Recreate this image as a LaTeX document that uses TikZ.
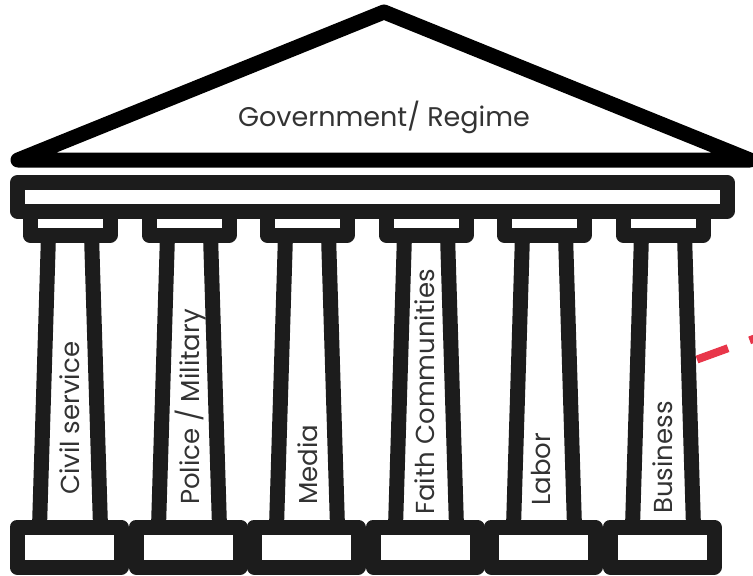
\documentclass[tikz,border=0pt]{standalone}
\usepackage{fontspec}
\setmainfont{Poppins}
\usepackage{tikz}
\definecolor{pillar}{HTML}{1C1C1C}
\definecolor{txt}{HTML}{333333}
\definecolor{redmark}{HTML}{E8364A}

\begin{document}
\begin{tikzpicture}[x = 1pt, y = -1pt,
	part/.style = {draw = pillar, line width = 15pt, line join = round},
	leg/.style = {draw = pillar, line width = 15pt},
	pillarlabel/.style = {text = txt, font = \fontsize{26}{30}\selectfont, rotate = 90, anchor = west, inner sep = 0pt}]
	\useasboundingbox (0, 0) rectangle (753, 576);
	% roof
	\draw[line width = 15pt, line join = round] (18, 160) -- (384, 12) -- (750, 160) -- cycle;
	\node (gov) at (384, 117) [text = txt, font = \fontsize{27}{31}\selectfont] {Government/ Regime};
	% beam
	\draw[part] (17.5, 182.5) rectangle (727, 211);
	% legs
	\draw[leg] (48.5, 235) -- (39.5, 527);   \draw[leg] (91.5, 235) -- (100.5, 527);
	\draw[leg] (167.5, 235) -- (158.5, 527); \draw[leg] (210.5, 235) -- (219.5, 527);
	\draw[leg] (285.5, 235) -- (276.5, 527); \draw[leg] (328.5, 235) -- (337.5, 527);
	\draw[leg] (404.5, 235) -- (395.5, 527); \draw[leg] (447.5, 235) -- (456.5, 527);
	\draw[leg] (522.5, 235) -- (513.5, 527); \draw[leg] (565.5, 235) -- (574.5, 527);
	\draw[leg] (641.5, 235) -- (632.5, 527); \draw[leg] (684.5, 235) -- (693.5, 527);
	% caps
	\draw[part] (30, 211) rectangle (110, 235);
	\draw[part] (149, 211) rectangle (229, 235);
	\draw[part] (267, 211) rectangle (347, 235);
	\draw[part] (386, 211) rectangle (466, 235);
	\draw[part] (504, 211) rectangle (584, 235);
	\draw[part] (623, 211) rectangle (703, 235);
	% bases
	\draw[part] (17, 527) rectangle (121, 567);
	\draw[part] (136, 527) rectangle (240, 567);
	\draw[part] (254, 527) rectangle (358, 567);
	\draw[part] (373, 527) rectangle (477, 567);
	\draw[part] (491, 527) rectangle (595, 567);
	\draw[part] (610, 527) rectangle (714, 567);
	% names
	\node (civil) at (70, 495) [pillarlabel] {Civil service};
	\node (police) at (191, 505) [pillarlabel] {Police / Military};
	\node (media) at (308, 505) [pillarlabel] {Media};
	\node (faith) at (425, 515) [pillarlabel] {Faith Communities};
	\node (labor) at (541, 506) [pillarlabel] {Labor};
	\node (business) at (663, 514) [pillarlabel] {Business};
	% red mark
	\coordinate (hit) at (697, 359.5);
	\coordinate (away) at (800, 322);
	\draw[redmark, line width = 8pt, dash pattern = on 33pt off 23pt] (hit) -- (away);
\end{tikzpicture}
\end{document}
